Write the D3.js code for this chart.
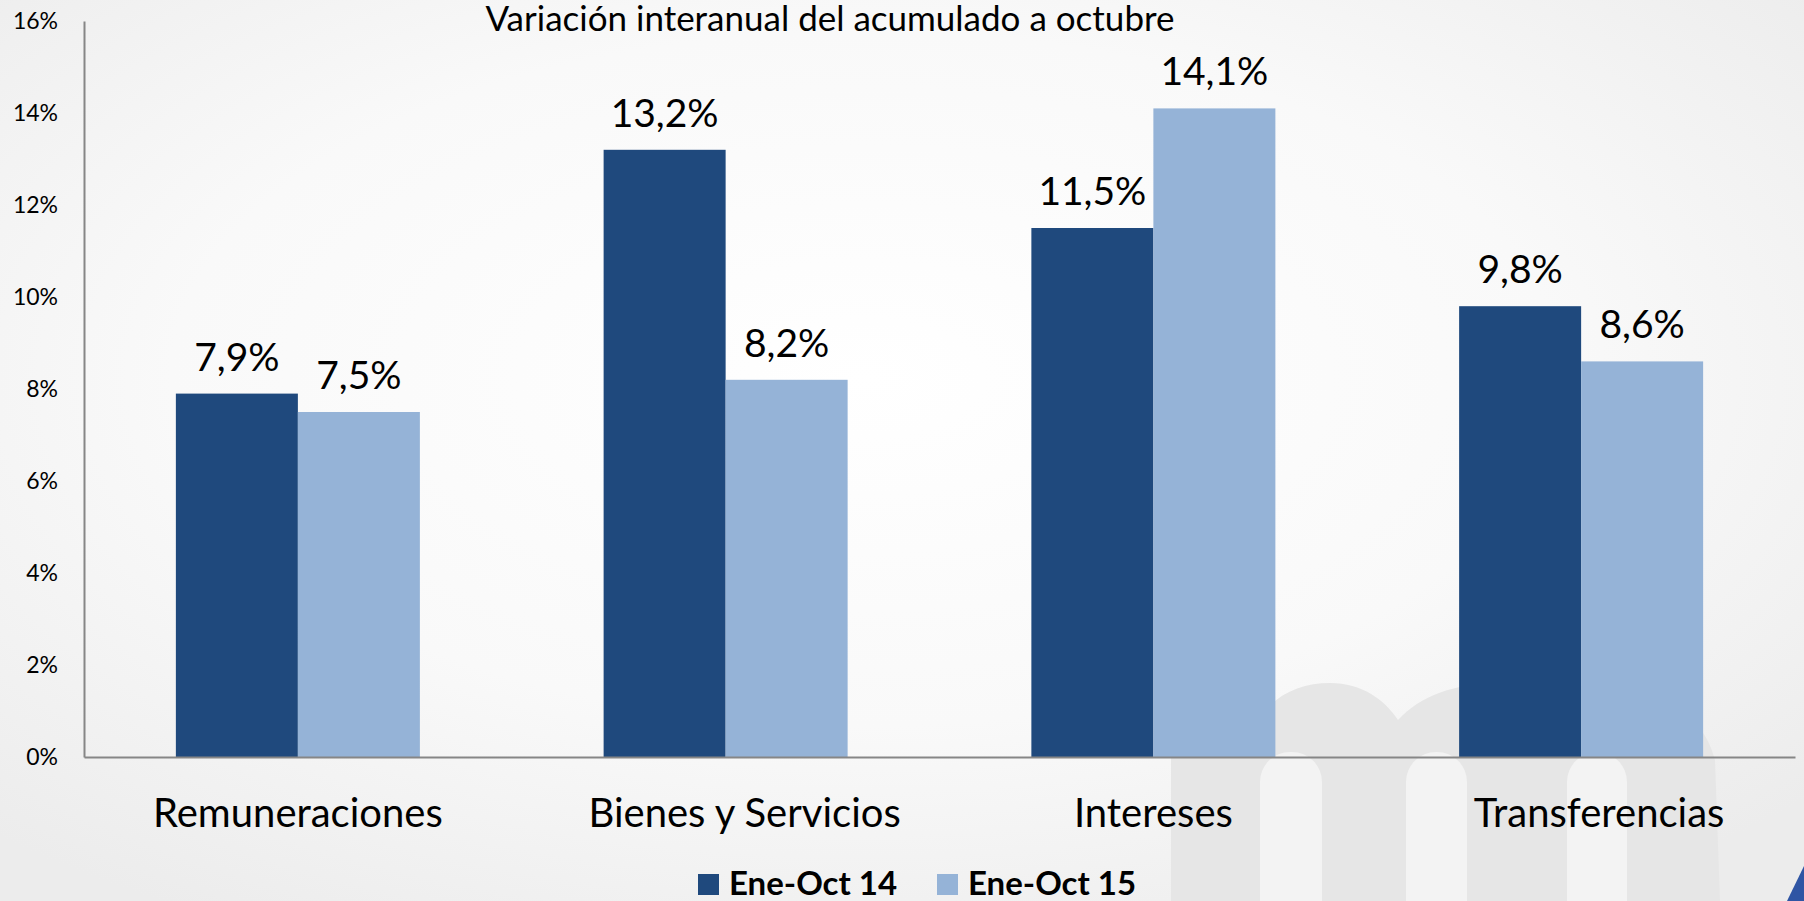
<!DOCTYPE html>
<html>
<head>
<meta charset="utf-8">
<script src="https://cdn.jsdelivr.net/npm/d3@7"></script>
<style>
  body { margin: 0; background: #f4f4f4; }
  svg { display: block; font-family: Lato, "Open Sans", sans-serif; }
</style>
</head>
<body>
<div id="chart"></div>
<script>
// chart data
var categories = ["Remuneraciones", "Bienes y Servicios", "Intereses", "Transferencias"];
var seriesNames = ["Ene-Oct 14", "Ene-Oct 15"];
var serie14 = [7.9, 13.2, 11.5, 9.8];
var serie15 = [7.5, 8.2, 14.1, 8.6];
var yTicks = [0, 2, 4, 6, 8, 10, 12, 14, 16];
var title = "Variación interanual del acumulado a octubre";

var colors = ["#1f497d", "#95b3d7"];

// set dimensions and margins of the graph
var W = 1804, H = 901;
var margin = {top: 21, right: 9, bottom: 144, left: 84},
    width = W - margin.left - margin.right,
    height = H - margin.top - margin.bottom;

var svg = d3.select("#chart").append("svg")
    .attr("width", W)
    .attr("height", H);

// background with a soft radial light
var defs = svg.append("defs");
var grad = defs.append("radialGradient")
    .attr("id", "bg")
    .attr("cx", "48%").attr("cy", "42%").attr("r", "70%");
grad.append("stop").attr("offset", "0%").attr("stop-color", "#ffffff");
grad.append("stop").attr("offset", "55%").attr("stop-color", "#f9f9f9");
grad.append("stop").attr("offset", "100%").attr("stop-color", "#ececec");
svg.append("rect").attr("width", W).attr("height", H).attr("fill", "url(#bg)");

// watermark "m" in the lower right corner
var wm = svg.append("g");
wm.append("path")
    .attr("fill", "#e6e6e6")
    .attr("d", "M1171,901 L1171,757 L1250,757 C1252,705 1290,683 1330,683 " +
               "C1362,683 1385,700 1398,720 C1420,696 1455,683 1500,683 " +
               "C1640,683 1700,700 1715,760 L1720,901 Z");
[[1260, 62], [1406, 61], [1567, 60]].forEach(function(c) {
  wm.append("rect")
      .attr("x", c[0]).attr("y", 752)
      .attr("width", c[1]).attr("height", 200)
      .attr("rx", 30)
      .attr("fill", "#f3f3f3");
});
wm.append("path")
    .attr("fill", "#2f55a4")
    .attr("d", "M1804,866 L1804,901 L1787,901 Z");

var g = svg.append("g")
    .attr("transform", "translate(" + margin.left + "," + margin.top + ")");

// scales
var x0 = d3.scaleBand()
    .domain(categories)
    .range([0, width])
    .padding(0);
var x1 = d3.scaleBand()
    .domain(seriesNames)
    .range([0, x0.bandwidth()])
    .paddingInner(0)
    .paddingOuter(0.753);
var y = d3.scaleLinear()
    .domain([0, 16])
    .range([height, 0]);

var rows = categories.map(function(c, i) {
  return {cat: c, vals: [
    {name: seriesNames[0], v: serie14[i], idx: 0},
    {name: seriesNames[1], v: serie15[i], idx: 1}
  ]};
});

// bars
var groups = g.selectAll(".cat")
    .data(rows)
  .enter().append("g")
    .attr("class", "cat")
    .attr("transform", function(d) { return "translate(" + x0(d.cat) + ",0)"; });

groups.selectAll("rect")
    .data(function(d) { return d.vals; })
  .enter().append("rect")
    .attr("x", function(d) { return x1(d.name); })
    .attr("width", x1.bandwidth())
    .attr("y", function(d) { return y(d.v); })
    .attr("height", function(d) { return height - y(d.v); })
    .attr("fill", function(d) { return colors[d.idx]; });

// value labels
groups.selectAll("text.val")
    .data(function(d) { return d.vals; })
  .enter().append("text")
    .attr("class", "val")
    .attr("x", function(d) { return x1(d.name) + x1.bandwidth() / 2; })
    .attr("y", function(d) { return y(d.v) - 23; })
    .attr("text-anchor", "middle")
    .style("font-size", "39px")
    .style("fill", "#000")
    .text(function(d) { return d.v.toFixed(1).replace(".", ",") + "%"; });

// y axis
var yAxis = g.append("g")
    .call(d3.axisLeft(y)
      .tickValues(yTicks)
      .tickSize(0)
      .tickPadding(26)
      .tickFormat(function(d) { return d + "%"; }));
yAxis.select(".domain").attr("stroke", "#868686").attr("stroke-width", 2);
yAxis.selectAll("text")
    .style("font-size", "23px")
    .style("font-family", "Lato, sans-serif")
    .attr("fill", "#000");

// x axis (some labels sit a bit right of the band centre in the original)
var labelShift = [0, 19, 0, 18];
var xAxis = g.append("g")
    .attr("transform", "translate(0," + height + ")")
    .call(d3.axisBottom(x0).tickSize(0).tickSizeOuter(0));
xAxis.select(".domain").attr("stroke", "#868686").attr("stroke-width", 2);
xAxis.selectAll("text")
    .attr("x", function(d, i) { return labelShift[i]; })
    .attr("y", 70)
    .attr("dy", 0)
    .style("font-size", "40px")
    .style("font-family", "Lato, sans-serif")
    .attr("fill", "#000");

// title
svg.append("text")
    .attr("x", 830)
    .attr("y", 31)
    .attr("text-anchor", "middle")
    .style("font-size", "35px")
    .style("fill", "#000")
    .text(title);

// legend
var legendX = [698, 937];
var legend = svg.selectAll(".legend")
    .data(seriesNames)
  .enter().append("g")
    .attr("class", "legend")
    .attr("transform", function(d, i) { return "translate(" + legendX[i] + ",874)"; });
legend.append("rect")
    .attr("width", 21).attr("height", 21)
    .attr("fill", function(d, i) { return colors[i]; });
legend.append("text")
    .attr("x", 31)
    .attr("y", 21)
    .style("font-size", "33px")
    .style("font-weight", "bold")
    .style("fill", "#000")
    .text(function(d) { return d; });
</script>
</body>
</html>
